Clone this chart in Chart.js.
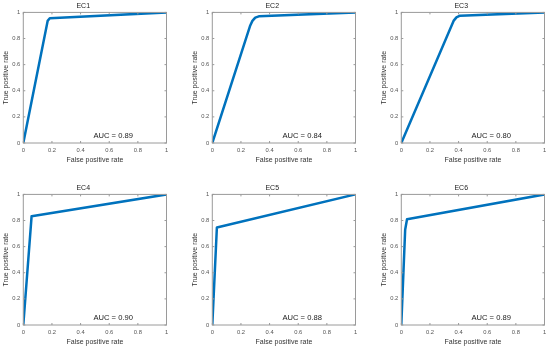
<!DOCTYPE html>
<html>
<head>
<meta charset="utf-8">
<script src="https://cdn.jsdelivr.net/npm/chart.js@4/dist/chart.umd.min.js"></script>
<style>
  html, body { margin: 0; padding: 0; background: #ffffff; }
  #wrap { position: relative; width: 550px; height: 349px; overflow: hidden; }
  .pane { position: absolute; width: 172px; height: 166px; }
</style>
</head>
<body>
<div id="wrap">
  <div class="pane" style="left:0px;top:0px"><canvas id="c0"></canvas></div>
  <div class="pane" style="left:189px;top:0px"><canvas id="c1"></canvas></div>
  <div class="pane" style="left:378px;top:0px"><canvas id="c2"></canvas></div>
  <div class="pane" style="left:0px;top:182px"><canvas id="c3"></canvas></div>
  <div class="pane" style="left:189px;top:182px"><canvas id="c4"></canvas></div>
  <div class="pane" style="left:378px;top:182px"><canvas id="c5"></canvas></div>
</div>
<script>
// ---- data ----
const categories = ['EC1', 'EC2', 'EC3', 'EC4', 'EC5', 'EC6'];
const aucValues = ['0.89', '0.84', '0.80', '0.90', '0.88', '0.89'];
const tickLabels = ['0', '0.2', '0.4', '0.6', '0.8', '1'];
const tickValues = [0, 0.2, 0.4, 0.6, 0.8, 1];

const fprEC1 = [0, 0.17, 0.185, 1];
const tprEC1 = [0, 0.935, 0.955, 1];
const fprEC2 = [0, 0.265, 0.28, 0.30, 0.325, 1];
const tprEC2 = [0, 0.90, 0.935, 0.96, 0.97, 1];
const fprEC3 = [0, 0.365, 0.385, 0.41, 1];
const tprEC3 = [0, 0.935, 0.962, 0.975, 1];
const fprEC4 = [0, 0.058, 1];
const tprEC4 = [0, 0.833, 1];
const fprEC5 = [0, 0.032, 1];
const tprEC5 = [0, 0.747, 1];
const fprEC6 = [0, 0.027, 0.04, 1];
const tprEC6 = [0, 0.73, 0.81, 1];

const fprAll = [fprEC1, fprEC2, fprEC3, fprEC4, fprEC5, fprEC6];
const tprAll = [tprEC1, tprEC2, tprEC3, tprEC4, tprEC5, tprEC6];

const xTitle = 'False positive rate';
const yTitle = 'True positive rate';

// ---- styling ----
const FONT = '"Liberation Sans", Arial, Helvetica, sans-serif';
const LINE_COLOR = '#0072BD';
const AXIS_COLOR = '#9a9a9a';

// Box + inward tick marks (MATLAB style), positions from the chart's scales
const boxPlugin = {
  id: 'matlabBox',
  afterDraw(chart) {
    const ctx = chart.ctx;
    const a = chart.chartArea;
    const xs = chart.scales.x, ys = chart.scales.y;
    ctx.save();
    ctx.strokeStyle = AXIS_COLOR;
    ctx.lineWidth = 1;
    ctx.strokeRect(a.left, a.top, a.right - a.left, a.bottom - a.top);
    ctx.beginPath();
    const tl = 2;
    tickValues.forEach(v => {
      const px = xs.getPixelForValue(v);
      ctx.moveTo(px, a.bottom); ctx.lineTo(px, a.bottom - tl);
      ctx.moveTo(px, a.top); ctx.lineTo(px, a.top + tl);
      const py = ys.getPixelForValue(v);
      ctx.moveTo(a.left, py); ctx.lineTo(a.left + tl, py);
      ctx.moveTo(a.right, py); ctx.lineTo(a.right - tl, py);
    });
    ctx.stroke();
    // AUC annotation
    const i = chart.options.plugins.matlabBox.index;
    ctx.fillStyle = '#1a1a1a';
    ctx.font = '7.6px ' + FONT;
    ctx.textAlign = 'left';
    ctx.textBaseline = 'middle';
    ctx.fillText('AUC = ' + aucValues[i], xs.getPixelForValue(0.49), ys.getPixelForValue(0.055));
    ctx.restore();
  }
};

categories.forEach((name, i) => {
  const pts = fprAll[i].map((x, k) => ({ x: x, y: tprAll[i][k] }));
  const topPad = 12.4;
  new Chart(document.getElementById('c' + i), {
    type: 'scatter',
    data: {
      datasets: [{
        data: pts,
        showLine: true,
        borderColor: LINE_COLOR,
        backgroundColor: LINE_COLOR,
        borderWidth: 2.5,
        pointRadius: 0,
        tension: 0,
        borderJoinStyle: 'round',
        borderCapStyle: 'round'
      }]
    },
    options: {
      responsive: true,
      maintainAspectRatio: false,
      animation: false,
      devicePixelRatio: 1,
      layout: { padding: { left: 0, right: 5.5, top: 0, bottom: 2 } },
      plugins: {
        legend: { display: false },
        tooltip: { enabled: false },
        title: {
          display: true,
          text: name,
          color: '#222',
          font: { family: FONT, size: 7, weight: 'normal' },
          padding: { top: 1.8, bottom: topPad - 1.8 - 8.4 }
        },
        matlabBox: { index: i }
      },
      scales: {
        x: {
          type: 'linear',
          min: 0, max: 1,
          afterFit(s) { s.height = 21; },
          border: { display: false },
          grid: { display: false, drawTicks: false },
          ticks: {
            stepSize: 0.2,
            padding: 3.8,
            color: '#555',
            font: { family: FONT, size: 5.8 },
            maxRotation: 0,
            callback: (v, idx) => tickLabels[idx]
          },
          title: {
            display: true,
            text: xTitle,
            color: '#333',
            font: { family: FONT, size: 7 },
            padding: { top: 0, bottom: 0 }
          }
        },
        y: {
          type: 'linear',
          min: 0, max: 1,
          afterFit(s) { s.width = 23.3; },
          border: { display: false },
          grid: { display: false, drawTicks: false },
          ticks: {
            stepSize: 0.2,
            padding: 3,
            color: '#555',
            font: { family: FONT, size: 5.8 },
            callback: (v, idx) => tickLabels[idx]
          },
          title: {
            display: true,
            text: yTitle,
            color: '#333',
            font: { family: FONT, size: 7 },
            padding: { top: 1.8, bottom: 0 }
          }
        }
      }
    },
    plugins: [boxPlugin]
  });
});
</script>
</body>
</html>
